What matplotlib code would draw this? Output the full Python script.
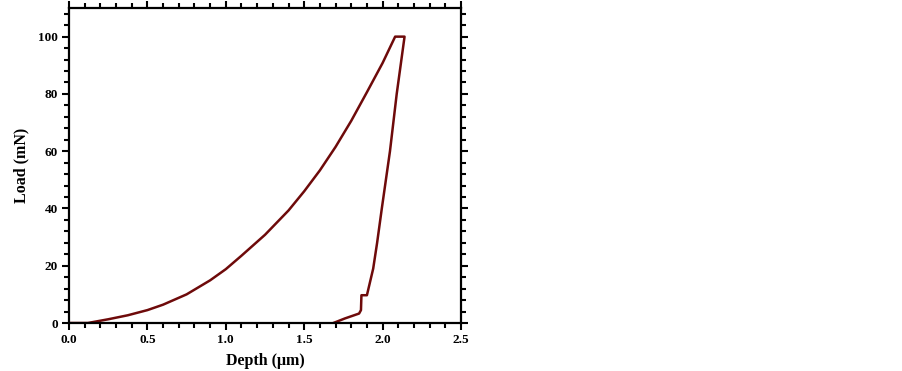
import numpy as np
import matplotlib
matplotlib.use("Agg")
import matplotlib.pyplot as plt
from matplotlib.ticker import AutoMinorLocator

# loading / holding / unloading curve
depth = [0.0, 0.12, 0.25, 0.375, 0.5, 0.6, 0.75, 0.9, 1.0, 1.1, 1.25, 1.4,
         1.5, 1.6, 1.7, 1.8, 1.9, 2.0, 2.04, 2.08,
         2.14,
         2.09, 2.047, 1.995, 1.965, 1.94, 1.90, 1.865, 1.862, 1.85, 1.76, 1.686]
load = [0.0, 0.0, 1.3, 2.7, 4.5, 6.4, 10.0, 14.9, 18.8, 23.5, 30.8, 39.3,
        46.0, 53.3, 61.5, 70.6, 80.6, 90.8, 95.4, 100.0,
        100.0,
        80.0, 60.0, 40.0, 28.0, 19.0, 9.7, 9.7, 4.5, 3.3, 1.6, 0.0]

xticks = [0.0, 0.5, 1.0, 1.5, 2.0, 2.5]
yticks = [0, 20, 40, 60, 80, 100]

plt.rcParams['font.family'] = ['Liberation Serif', 'DejaVu Serif']
plt.rcParams['font.weight'] = 'bold'

fig = plt.figure(figsize=(9.02, 3.71), dpi=100)
ax = fig.add_axes([69/902, 1 - 323/371, (461-69)/902, (323-8)/371])

ax.plot(depth, load, color='#6e0a0a', lw=1.8, solid_joinstyle='round')

ax.set_xlim(0, 2.5)
ax.set_ylim(0, 110)
ax.set_xticks(xticks)
ax.set_yticks(yticks)
ax.set_xticklabels(['%.1f' % v for v in xticks], fontweight='bold', fontsize=9.5)
ax.set_yticklabels([str(v) for v in yticks], fontweight='bold', fontsize=9.5)
ax.xaxis.set_minor_locator(AutoMinorLocator(5))
ax.yaxis.set_minor_locator(AutoMinorLocator(5))
ax.tick_params(which='both', direction='out', top=True, right=True, width=1.5, pad=3)
ax.tick_params(which='major', length=5)
ax.tick_params(which='minor', length=3.5)
for s in ax.spines.values():
    s.set_linewidth(1.6)

ax.set_xlabel('Depth (\u03bcm)', fontweight='bold', fontsize=11.5, labelpad=5)
ax.set_ylabel('Load (mN)', fontweight='bold', fontsize=11.5, labelpad=6)

fig.savefig('out.png', dpi=100)
